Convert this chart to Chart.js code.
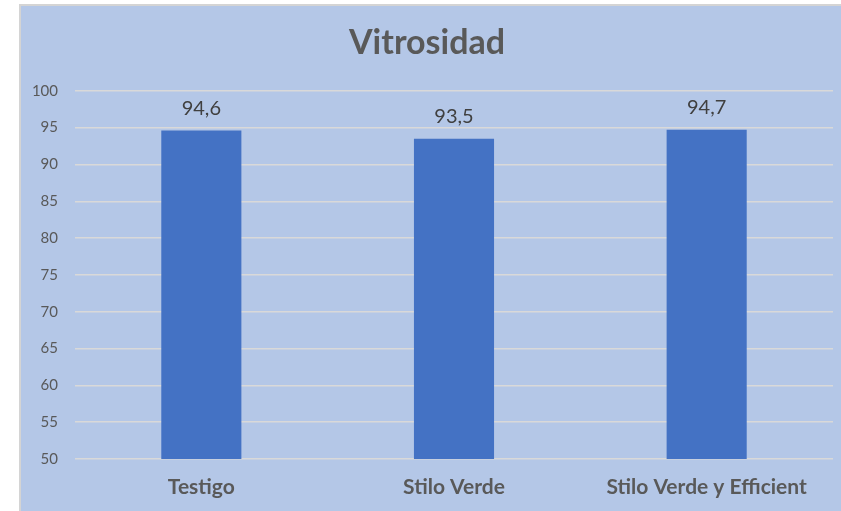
<!DOCTYPE html>
<html>
<head>
<meta charset="utf-8">
<script src="https://cdn.jsdelivr.net/npm/chart.js@4"></script>
<style>
  html, body { margin: 0; padding: 0; background: #ffffff; overflow: hidden; }
  #frame {
    position: absolute;
    left: 19px;
    top: 4px;
    width: 830px;
    height: 505px;
    border-left: 2px solid #d4d4d4;
    border-top: 2px solid #d4d4d4;
    background: #b4c7e7;
  }
</style>
</head>
<body>
<div id="frame"><canvas id="vitrosidadChart" width="820" height="505"></canvas></div>
<script>
// --- Data ---
const CATEGORIES = ["Testigo", "Stilo Verde", "Stilo Verde y Efficient"];
const VITROSIDAD = [94.6, 93.5, 94.7];
const Y_TICKS = [50, 55, 60, 65, 70, 75, 80, 85, 90, 95, 100];

const TITLE = "Vitrosidad";
const FONT = "Lato";
const BAR_COLOR = "#4472c4";
const TEXT_GRAY = "#595959";

function formatValue(v) {
  return v.toFixed(1).replace(".", ",");
}

// draws the value above each bar
const valueLabels = {
  id: "valueLabels",
  afterDatasetsDraw(chart) {
    const ctx = chart.ctx;
    const meta = chart.getDatasetMeta(0);
    ctx.save();
    ctx.font = "20px " + FONT;
    ctx.fillStyle = "#404040";
    ctx.textAlign = "center";
    ctx.textBaseline = "middle";
    meta.data.forEach((bar, i) => {
      ctx.fillText(formatValue(VITROSIDAD[i]), bar.x, bar.y - 22);
    });
    ctx.restore();
  },
};

const ctx = document.getElementById("vitrosidadChart").getContext("2d");
new Chart(ctx, {
  type: "bar",
  data: {
    labels: CATEGORIES,
    datasets: [
      {
        label: TITLE,
        data: VITROSIDAD,
        backgroundColor: BAR_COLOR,
        borderWidth: 0,
        barPercentage: 0.317,
        categoryPercentage: 1,
      },
    ],
  },
  options: {
    responsive: false,
    animation: false,
    layout: { padding: { left: 0, right: 8, top: 0, bottom: 0 } },
    scales: {
      x: {
        grid: { display: false, drawTicks: false },
        border: { display: false },
        ticks: {
          color: TEXT_GRAY,
          font: { family: FONT, size: 21, weight: "bold" },
          padding: 16,
          maxRotation: 0,
        },
        afterFit: (scale) => {
          scale.height = 52;
        },
      },
      y: {
        min: 50,
        max: 100,
        afterBuildTicks: (scale) => {
          scale.ticks = Y_TICKS.map((v) => ({ value: v }));
        },
        grid: { color: "#d9d9d9", lineWidth: 1.5, drawTicks: false },
        border: { display: false },
        ticks: {
          color: TEXT_GRAY,
          font: { family: FONT, size: 15 },
          padding: 17,
        },
        afterFit: (scale) => {
          scale.width = 54;
        },
      },
    },
    plugins: {
      legend: { display: false },
      tooltip: { enabled: false },
      title: {
        display: true,
        text: TITLE,
        color: TEXT_GRAY,
        font: { family: FONT, size: 34, weight: "bold" },
        padding: { top: 17, bottom: 27 },
      },
    },
  },
  plugins: [valueLabels],
});
</script>
</body>
</html>
